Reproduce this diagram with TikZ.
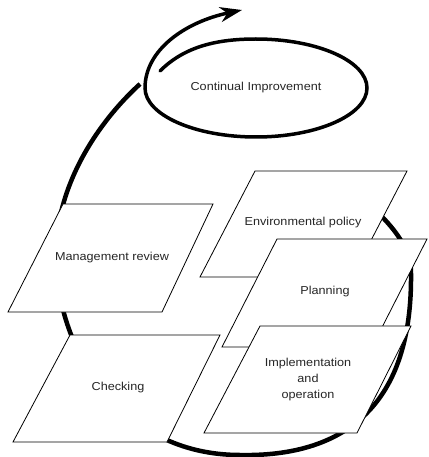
\documentclass[tikz,border=0pt]{standalone}
\usepackage{fontspec}
\setmainfont{Liberation Sans}[FakeStretch=1.1]
\usetikzlibrary{arrows.meta,calc}

\begin{document}
\begin{tikzpicture}[%
  x=1pt,y=-1pt,
  sheet/.style={draw,fill=white,line width=0.8pt,line join=miter},
  sheettext/.style={font=\fontsize{11.5}{16}\selectfont,align=center,text=black!85},
  bigarc/.style={draw,line width=4.5pt},
  spiral/.style={draw,line width=3.5pt,line cap=round}]
    \useasboundingbox (0,0) rectangle (428,457);
    % Cycle behind the sheets
    \coordinate (start) at (370,205);
    \coordinate (east) at (411,275);
    \coordinate (south) at (240,455);
    \coordinate (west) at (56,260);
    \coordinate (top) at (140,84);
    \draw[bigarc] (start) .. controls (395,228) and (412,250) .. (east)
      .. controls (412,410) and (340,457) .. (south)
      .. controls (120,455) and (58,350) .. (west)
      .. controls (54,190) and (95,125) .. (top);
    % Continual improvement
    \node[sheettext] (ci) at (256,88) {Continual Improvement};
    \coordinate (inner) at (160,71);
    \coordinate (tip) at (242,10);
    \draw[spiral,-{Stealth[length=22pt,width=15pt,inset=7pt]}] (inner)
      .. controls (185,46) and (218,39) .. (256,39)
      .. controls (317,39) and (367,61) .. (367,88)
      .. controls (367,115) and (317,137) .. (256,137)
      .. controls (195,137) and (145,115) .. (145,88)
      .. controls (145,50) and (185,22) .. (tip);
    % Sheets
    \draw[sheet] (63,204) -- (213,204) -- (162,312) -- (8,312) -- cycle;
    \node[sheettext] (review) at (112,258) {Management review};
    \draw[sheet] (70,335) -- (220,335) -- (167,442) -- (13,442) -- cycle;
    \node[sheettext] (check) at (118,388) {Checking};
    \draw[sheet] (255,171) -- (407,171) -- (352,277) -- (200,277) -- cycle;
    \node[sheettext] (policy) at (303,223) {Environmental policy};
    \draw[sheet] (277,239) -- (427,239) -- (372,347) -- (222,347) -- cycle;
    \node[sheettext] (plan) at (325,292) {Planning};
    \draw[sheet] (260,326) -- (411,326) -- (357,433) -- (204,433) -- cycle;
    \node[sheettext] (impl) at (308,380) {Implementation\\and\\operation};
\end{tikzpicture}
\end{document}
